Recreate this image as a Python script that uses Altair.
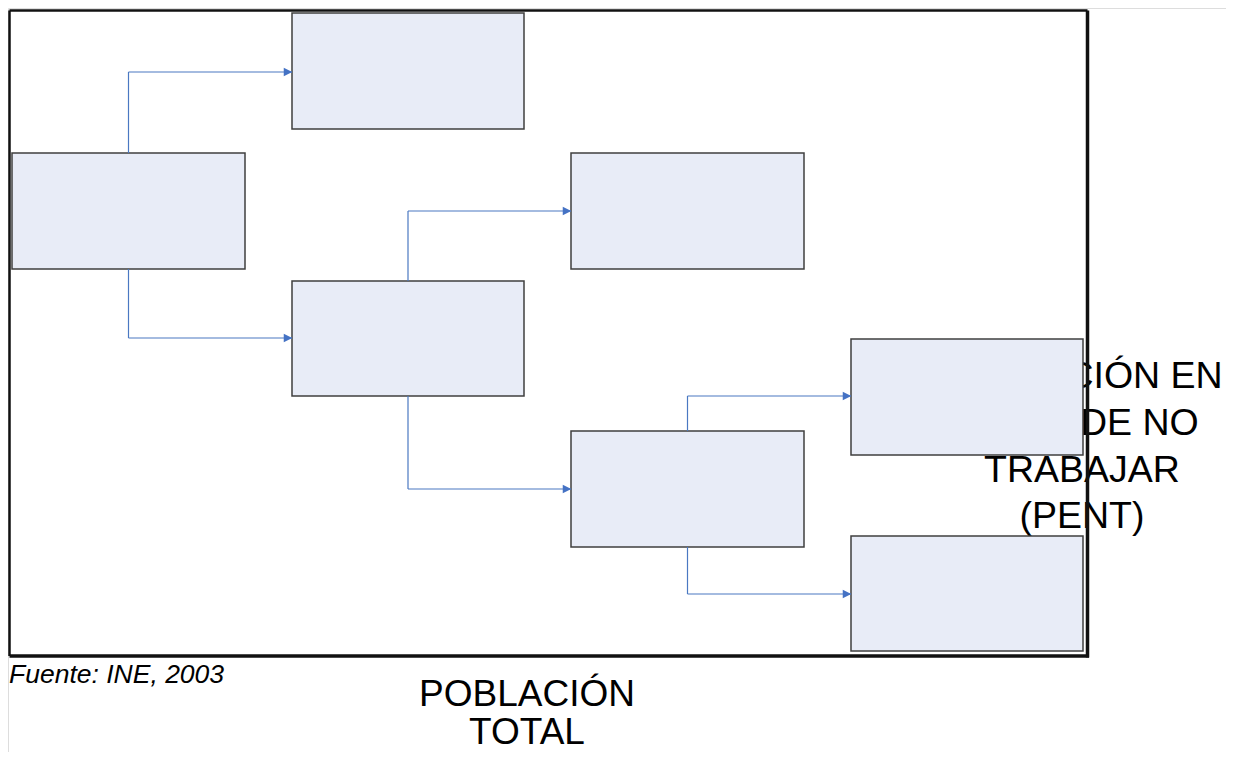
import altair as alt
import pandas as pd

# ---- diagram data (page pixel coordinates) ----
box_id = ["A", "B", "C", "D", "E", "F", "G"]
box_x0 = [12, 292, 292, 571, 571, 851, 851]
box_x1 = [245, 524, 524, 804, 804, 1083, 1083]
box_y0 = [153, 13, 281, 153, 431, 339, 536]
box_y1 = [269, 129, 396, 269, 547, 455, 651]

# connectors: (from box, to box, elbow y)
conn_from = ["A", "A", "C", "C", "E", "E"]
conn_to = ["B", "C", "D", "E", "F", "G"]
conn_elbow_y = [72, 338, 211, 489, 396, 594]

right_lines = ["POBLACIÓN EN", "EDAD DE NO", "TRABAJAR", "(PENT)"]
right_base_y = [388, 435, 482, 528]
right_x = 1082

bottom_lines = ["POBLACIÓN", "TOTAL"]
bottom_base_y = [706, 744]
bottom_x = 527

source_text = "Fuente: INE, 2003"

frame_x0, frame_x1, frame_y0, frame_y1 = 9.5, 1087.5, 10.5, 656

# ---- build tables ----
boxes = pd.DataFrame({"id": box_id, "x0": box_x0, "x1": box_x1, "y0": box_y0, "y1": box_y1})
bx = {r.id: r for r in boxes.itertuples()}

segs = []
heads = []
for f, t, ey in zip(conn_from, conn_to, conn_elbow_y):
    a, b = bx[f], bx[t]
    cx = (a.x0 + a.x1) / 2
    start_y = a.y0 if ey < a.y0 else a.y1
    segs.append({"x": cx, "y": start_y, "x2": cx, "y2": ey})
    segs.append({"x": cx, "y": ey, "x2": b.x0, "y2": ey})
    heads.append({"x": b.x0 - 4, "y": ey})
segs = pd.DataFrame(segs)
heads = pd.DataFrame(heads)

right_df = pd.DataFrame({"t": right_lines, "y": right_base_y, "x": [right_x] * len(right_lines)})
bottom_df = pd.DataFrame({"t": bottom_lines, "y": bottom_base_y, "x": [bottom_x] * len(bottom_lines)})
src_df = pd.DataFrame({"t": [source_text], "x": [9], "y": [683]})

frame_df = pd.DataFrame({
    "x": [frame_x0, frame_x0, frame_x1, frame_x0],
    "x2": [frame_x0, frame_x1, frame_x1, frame_x1 + 1.5],
    "y": [frame_y0, frame_y0, frame_y0, frame_y1],
    "y2": [frame_y1, frame_y0, frame_y1 + 1.5, frame_y1],
    "w": [2.5, 2.5, 3.5, 3.5],
})

W, H = 1218, 744
xs = alt.Scale(domain=[8, 8 + W], nice=False, zero=False)
ys = alt.Scale(domain=[8, 8 + H], nice=False, zero=False, reverse=True)

def X(f="x"):
    return alt.X(f"{f}:Q", scale=xs, axis=None)

def Y(f="y"):
    return alt.Y(f"{f}:Q", scale=ys, axis=None)

FONT = "Liberation Sans"

right_text = alt.Chart(right_df).mark_text(
    font=FONT, fontSize=37.5, align="center", baseline="alphabetic", color="#000000"
).encode(x=X(), y=Y(), text="t:N")

bottom_text = alt.Chart(bottom_df).mark_text(
    font=FONT, fontSize=37, align="center", baseline="alphabetic", color="#000000"
).encode(x=X(), y=Y(), text="t:N")

src = alt.Chart(src_df).mark_text(
    font=FONT, fontSize=26.5, fontStyle="italic", align="left", baseline="alphabetic", color="#000000"
).encode(x=X(), y=Y(), text="t:N")

rects = alt.Chart(boxes).mark_rect(
    fill="#E8ECF7", stroke="#3f3f3f", strokeWidth=1.5
).encode(x=X("x0"), x2=alt.X2("x1"), y=Y("y0"), y2=alt.Y2("y1"))

lines = alt.Chart(segs).mark_rule(color="#4A78C2", strokeWidth=1.2).encode(
    x=X(), x2=alt.X2("x2"), y=Y(), y2=alt.Y2("y2")
)

arrowheads = alt.Chart(heads).mark_point(
    shape="M-1,-1L1,0L-1,1Z", filled=True, size=72, color="#4472C4", opacity=1, strokeWidth=0
).encode(x=X(), y=Y())

frame = alt.Chart(frame_df).mark_rule(color="#111111").encode(
    x=X(), x2=alt.X2("x2"), y=Y(), y2=alt.Y2("y2"),
    strokeWidth=alt.StrokeWidth("w:Q", scale=None, legend=None)
)

chart = alt.layer(right_text, bottom_text, src, rects, lines, arrowheads, frame).properties(
    width=W, height=H, padding=0, autosize=alt.AutoSizeParams(type="none")
).configure_view(strokeWidth=0, stroke="transparent").configure(background="#ffffff")

chart.save("out.html", embed_options={"renderer": "svg", "actions": False})
